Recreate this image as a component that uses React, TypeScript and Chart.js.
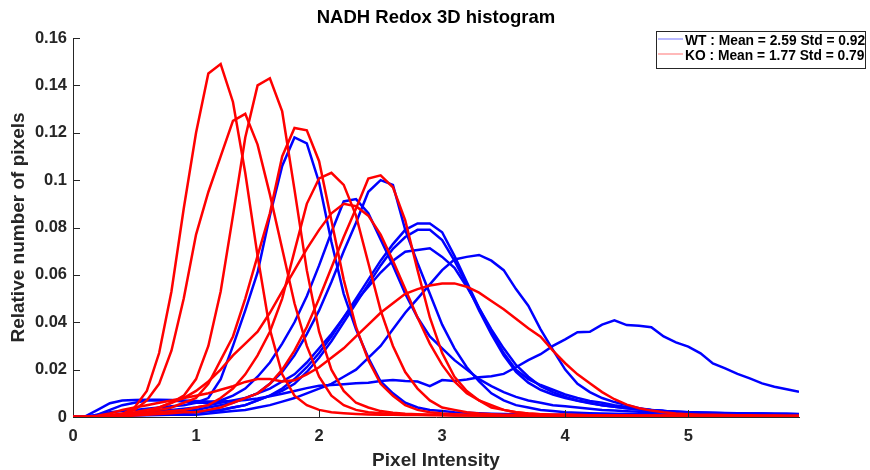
import React, { useEffect, useRef } from 'react';
import { Chart, registerables } from 'chart.js';

Chart.register(...registerables);

const chartTitle = 'NADH Redox 3D histogram';
const xAxisTitle = 'Pixel Intensity';
const yAxisTitle = 'Relative number of pixels';
const xTickValues = [0, 1, 2, 3, 4, 5];
const yTickValues = [0, 0.02, 0.04, 0.06, 0.08, 0.1, 0.12, 0.14, 0.16];
const legendLabels = ['WT : Mean = 2.59 Std = 0.92', 'KO : Mean = 1.77 Std = 0.79'];
const groupColors = ['#0000ff', '#ff0000'];

const intensity = [
  0.0, 0.1, 0.2, 0.3, 0.4, 0.5, 0.6, 0.7, 0.8, 0.9,
  1.0, 1.1, 1.2, 1.3, 1.4, 1.5, 1.6, 1.7, 1.8, 1.9,
  2.0, 2.1, 2.2, 2.3, 2.4, 2.5, 2.6, 2.7, 2.8, 2.9,
  3.0, 3.1, 3.2, 3.3, 3.4, 3.5, 3.6, 3.7, 3.8, 3.9,
  4.0, 4.1, 4.2, 4.3, 4.4, 4.5, 4.6, 4.7, 4.8, 4.9,
  5.0, 5.1, 5.2, 5.3, 5.4, 5.5, 5.6, 5.7, 5.8, 5.9,
];

// KO (red) curves
const ko1 = [
  0, 0, 0.0002, 0.0005, 0.0012, 0.004, 0.011, 0.027, 0.053, 0.088,
  0.12, 0.145, 0.149, 0.133, 0.103, 0.068, 0.037, 0.018, 0.009, 0.005,
  0.003, 0.002, 0.0016, 0.0013, 0.0011, 0.001, 0.0009, 0.0008, 0.0008, 0.0007,
  0.0007, 0.0006, 0.0006, 0.0006, 0.0005, 0.0005, 0.0005, 0.0005, 0.0004, 0.0004,
  0.0004, 0.0004, 0.0004, 0.0004, 0.0003, 0.0003, 0.0003, 0.0003, 0.0003, 0.0003,
  0.0003, 0.0003, 0.0003, 0.0003, 0.0003, 0.0003, 0.0003, 0.0003, 0.0003, 0.0003,
];
const ko2 = [
  0, 0, 0.0002, 0.0005, 0.001, 0.003, 0.007, 0.014, 0.028, 0.05,
  0.077, 0.095, 0.11, 0.125, 0.128, 0.115, 0.094, 0.071, 0.048, 0.03,
  0.017, 0.009, 0.005, 0.003, 0.002, 0.0016, 0.0013, 0.0011, 0.001, 0.0009,
  0.0008, 0.0007, 0.0007, 0.0006, 0.0006, 0.0005, 0.0005, 0.0005, 0.0005, 0.0004,
  0.0004, 0.0004, 0.0004, 0.0004, 0.0004, 0.0004, 0.0004, 0.0004, 0.0004, 0.0004,
  0.0003, 0.0003, 0.0003, 0.0003, 0.0003, 0.0003, 0.0003, 0.0003, 0.0003, 0.0003,
];
const ko3 = [
  0, 0, 0, 0.0003, 0.0008, 0.0015, 0.002, 0.004, 0.006, 0.009,
  0.016, 0.03, 0.053, 0.085, 0.118, 0.14, 0.143, 0.129, 0.096, 0.062,
  0.036, 0.02, 0.011, 0.006, 0.004, 0.0025, 0.0018, 0.0014, 0.0012, 0.001,
  0.0009, 0.0008, 0.0007, 0.0007, 0.0006, 0.0006, 0.0005, 0.0005, 0.0005, 0.0005,
  0.0004, 0.0004, 0.0004, 0.0004, 0.0004, 0.0004, 0.0004, 0.0004, 0.0003, 0.0003,
  0.0003, 0.0003, 0.0003, 0.0003, 0.0003, 0.0003, 0.0003, 0.0003, 0.0003, 0.0003,
];
const ko4 = [
  0, 0, 0, 0.0003, 0.0008, 0.0015, 0.002, 0.003, 0.004, 0.006,
  0.008, 0.014, 0.024, 0.034, 0.05, 0.068, 0.086, 0.11, 0.122, 0.121,
  0.108, 0.083, 0.058, 0.038, 0.024, 0.014, 0.009, 0.005, 0.003, 0.002,
  0.0015, 0.0012, 0.001, 0.0009, 0.0008, 0.0007, 0.0007, 0.0006, 0.0006, 0.0005,
  0.0005, 0.0005, 0.0005, 0.0004, 0.0004, 0.0004, 0.0004, 0.0004, 0.0004, 0.0004,
  0.0003, 0.0003, 0.0003, 0.0003, 0.0003, 0.0003, 0.0003, 0.0003, 0.0003, 0.0003,
];
const ko5 = [
  0, 0, 0, 0.0003, 0.0006, 0.001, 0.0015, 0.002, 0.0025, 0.003,
  0.004, 0.005, 0.008, 0.012, 0.018, 0.026, 0.036, 0.05, 0.07, 0.09,
  0.1007, 0.1031, 0.098, 0.085, 0.065, 0.045, 0.03, 0.019, 0.012, 0.007,
  0.004, 0.003, 0.002, 0.0015, 0.0012, 0.001, 0.0009, 0.0008, 0.0007, 0.0007,
  0.0006, 0.0006, 0.0005, 0.0005, 0.0005, 0.0005, 0.0004, 0.0004, 0.0004, 0.0004,
  0.0004, 0.0004, 0.0004, 0.0003, 0.0003, 0.0003, 0.0003, 0.0003, 0.0003, 0.0003,
];
const ko6 = [
  0, 0, 0, 0, 0.0003, 0.0006, 0.001, 0.0013, 0.0016, 0.002,
  0.002, 0.003, 0.004, 0.006, 0.008, 0.01, 0.014, 0.02, 0.028, 0.038,
  0.05, 0.063, 0.076, 0.088, 0.1007, 0.102, 0.097, 0.083, 0.062, 0.042,
  0.027, 0.017, 0.011, 0.007, 0.004, 0.003, 0.002, 0.0015, 0.0012, 0.001,
  0.0009, 0.0008, 0.0007, 0.0007, 0.0006, 0.0006, 0.0005, 0.0005, 0.0005, 0.0005,
  0.0004, 0.0004, 0.0004, 0.0004, 0.0004, 0.0004, 0.0004, 0.0004, 0.0004, 0.0004,
];
const ko7 = [
  0, 0, 0.0003, 0.0008, 0.0015, 0.002, 0.003, 0.004, 0.006, 0.008,
  0.011, 0.015, 0.02, 0.026, 0.031, 0.036, 0.044, 0.053, 0.062, 0.071,
  0.079, 0.086, 0.09, 0.089, 0.085, 0.077, 0.066, 0.054, 0.042, 0.031,
  0.022, 0.015, 0.01, 0.007, 0.005, 0.003, 0.002, 0.0015, 0.0012, 0.001,
  0.0009, 0.0008, 0.0007, 0.0007, 0.0006, 0.0006, 0.0005, 0.0005, 0.0005, 0.0005,
  0.0004, 0.0004, 0.0004, 0.0004, 0.0004, 0.0004, 0.0004, 0.0004, 0.0004, 0.0004,
];
const ko8 = [
  0, 0, 0.0005, 0.0015, 0.003, 0.004, 0.005, 0.006, 0.007, 0.008,
  0.009, 0.01, 0.0115, 0.013, 0.0148, 0.016, 0.016, 0.015, 0.0155, 0.018,
  0.021, 0.025, 0.029, 0.034, 0.039, 0.044, 0.048, 0.052, 0.054, 0.0555,
  0.0564, 0.0564, 0.055, 0.0525, 0.049, 0.0455, 0.0415, 0.0375, 0.0339, 0.028,
  0.0227, 0.018, 0.0142, 0.0105, 0.0075, 0.0052, 0.0037, 0.0027, 0.002, 0.0015,
  0.0012, 0.001, 0.0009, 0.0008, 0.0007, 0.0007, 0.0006, 0.0006, 0.0005, 0.0005,
];

// WT (blue) curves
const wt1 = [
  0, 0, 0.001, 0.002, 0.0025, 0.003, 0.0035, 0.004, 0.0045, 0.005,
  0.006, 0.008, 0.016, 0.03, 0.045, 0.061, 0.085, 0.106, 0.118, 0.1155,
  0.099, 0.074, 0.052, 0.037, 0.025, 0.015, 0.01, 0.006, 0.004, 0.003,
  0.0025, 0.002, 0.0018, 0.0016, 0.0014, 0.0013, 0.0012, 0.0011, 0.001, 0.001,
  0.0009, 0.0009, 0.0009, 0.0008, 0.0008, 0.0008, 0.0008, 0.0007, 0.0007, 0.0007,
  0.0007, 0.0007, 0.0006, 0.0006, 0.0006, 0.0006, 0.0006, 0.0006, 0.0006, 0.0006,
];
const wt2 = [
  0, 0, 0.001, 0.003, 0.005, 0.006, 0.007, 0.007, 0.007, 0.0065,
  0.006, 0.006, 0.007, 0.009, 0.012, 0.017, 0.023, 0.031, 0.04, 0.051,
  0.064, 0.078, 0.091, 0.092, 0.086, 0.075, 0.064, 0.052, 0.042, 0.034,
  0.029, 0.024, 0.02, 0.016, 0.013, 0.0105, 0.0085, 0.007, 0.006, 0.005,
  0.0045, 0.004, 0.0035, 0.003, 0.0027, 0.0024, 0.0022, 0.002, 0.0019, 0.0018,
  0.0017, 0.0016, 0.0015, 0.0015, 0.0014, 0.0014, 0.0013, 0.0013, 0.0012, 0.0012,
];
const wt3 = [
  0, 0, 0, 0.0005, 0.001, 0.001, 0.0015, 0.0015, 0.002, 0.0025,
  0.003, 0.004, 0.005, 0.006, 0.008, 0.01, 0.014, 0.019, 0.026, 0.035,
  0.045, 0.057, 0.07, 0.082, 0.0951, 0.1, 0.098, 0.079, 0.065, 0.052,
  0.039, 0.029, 0.021, 0.015, 0.01, 0.007, 0.005, 0.004, 0.003, 0.0025,
  0.002, 0.0018, 0.0016, 0.0015, 0.0014, 0.0013, 0.0012, 0.0012, 0.0011, 0.0011,
  0.001, 0.001, 0.001, 0.001, 0.001, 0.001, 0.001, 0.001, 0.001, 0.001,
];
const wt4 = [
  0, 0, 0, 0.0005, 0.001, 0.001, 0.0012, 0.0014, 0.0016, 0.0018,
  0.002, 0.0025, 0.003, 0.004, 0.005, 0.007, 0.009, 0.012, 0.016, 0.021,
  0.027, 0.034, 0.042, 0.05, 0.058, 0.066, 0.073, 0.079, 0.0817, 0.0817,
  0.078, 0.068, 0.057, 0.046, 0.036, 0.027, 0.02, 0.016, 0.0135, 0.0115,
  0.0095, 0.008, 0.0068, 0.006, 0.005, 0.0042, 0.0035, 0.003, 0.0025, 0.0022,
  0.002, 0.0019, 0.0018, 0.0017, 0.0016, 0.0015, 0.0015, 0.0014, 0.0014, 0.0013,
];
const wt5 = [
  0, 0, 0, 0.0005, 0.001, 0.001, 0.0012, 0.0014, 0.0016, 0.0018,
  0.002, 0.0025, 0.003, 0.004, 0.005, 0.007, 0.009, 0.011, 0.014, 0.019,
  0.025, 0.032, 0.04, 0.048, 0.056, 0.064, 0.071, 0.076, 0.079, 0.079,
  0.0747, 0.066, 0.056, 0.045, 0.035, 0.026, 0.019, 0.0145, 0.0115, 0.0095,
  0.008, 0.0068, 0.0058, 0.005, 0.0043, 0.0037, 0.0032, 0.0028, 0.0025, 0.0022,
  0.002, 0.0018, 0.0017, 0.0016, 0.0015, 0.0014, 0.0014, 0.0013, 0.0013, 0.0012,
];
const wt6 = [
  0, 0, 0, 0.0005, 0.001, 0.0015, 0.002, 0.0025, 0.003, 0.0035,
  0.004, 0.005, 0.006, 0.007, 0.008, 0.01, 0.012, 0.015, 0.018, 0.023,
  0.029, 0.035, 0.042, 0.049, 0.055, 0.061, 0.066, 0.0698, 0.0705, 0.0712,
  0.0676, 0.063, 0.055, 0.046, 0.037, 0.029, 0.022, 0.017, 0.013, 0.0105,
  0.0085, 0.007, 0.006, 0.005, 0.0043, 0.0037, 0.0032, 0.0028, 0.0025, 0.0022,
  0.002, 0.0018, 0.0017, 0.0016, 0.0015, 0.0014, 0.0014, 0.0013, 0.0013, 0.0012,
];
const wt7 = [
  0, 0, 0, 0.0003, 0.0005, 0.0006, 0.0007, 0.0008, 0.0009, 0.001,
  0.001, 0.0015, 0.002, 0.0025, 0.003, 0.004, 0.005, 0.0065, 0.008, 0.01,
  0.012, 0.014, 0.017, 0.02, 0.025, 0.03, 0.037, 0.044, 0.05, 0.056,
  0.062, 0.0665, 0.0676, 0.0684, 0.066, 0.062, 0.054, 0.047, 0.037, 0.0283,
  0.02, 0.014, 0.0105, 0.008, 0.0063, 0.005, 0.0037, 0.003, 0.0025, 0.002,
  0.0018, 0.0016, 0.0015, 0.0014, 0.0013, 0.0012, 0.0012, 0.0011, 0.0011, 0.001,
];
const wt8 = [
  0, 0.0003, 0.003, 0.0058, 0.007, 0.0072, 0.0073, 0.0073, 0.0072, 0.007,
  0.0068, 0.0065, 0.0065, 0.0068, 0.0072, 0.0078, 0.0088, 0.0098, 0.011, 0.0122,
  0.0132, 0.0135, 0.0138, 0.0142, 0.0145, 0.0152, 0.0156, 0.0152, 0.015, 0.013,
  0.0156, 0.0152, 0.0158, 0.0168, 0.0172, 0.0182, 0.021, 0.024, 0.0265, 0.03,
  0.0328, 0.0358, 0.036, 0.039, 0.0408, 0.0388, 0.0385, 0.0379, 0.034, 0.0315,
  0.0297, 0.0269, 0.0226, 0.0205, 0.0182, 0.0163, 0.0142, 0.0128, 0.0117, 0.0107,
];

const koSeries = [ko1, ko2, ko3, ko4, ko5, ko6, ko7, ko8];
const wtSeries = [wt1, wt2, wt3, wt4, wt5, wt6, wt7, wt8];

const FONT_FAMILY = '"Liberation Sans", Arial, Helvetica, sans-serif';
const TEXT_COLOR = '#262626';

const decorPlugin = {
  id: 'matlabDecor',
  afterDraw(chart: any) {
    const { ctx, chartArea, scales } = chart;
    const { left, right, bottom } = chartArea;
    ctx.save();
    // inward tick marks
    ctx.strokeStyle = TEXT_COLOR;
    ctx.lineWidth = 1;
    ctx.beginPath();
    for (const v of yTickValues) {
      if (v === 0) continue;
      const y = Math.round(scales.y.getPixelForValue(v)) + 0.5;
      ctx.moveTo(left, y);
      ctx.lineTo(left + 7, y);
    }
    for (const v of xTickValues) {
      if (v === 0) continue;
      const x = Math.round(scales.x.getPixelForValue(v)) + 0.5;
      ctx.moveTo(x, bottom);
      ctx.lineTo(x, bottom - 7);
    }
    ctx.stroke();

    // title
    ctx.fillStyle = '#000000';
    ctx.font = `bold 18.5px ${FONT_FAMILY}`;
    ctx.textAlign = 'center';
    ctx.textBaseline = 'middle';
    ctx.fillText(chartTitle, (left + right) / 2, 18);

    // legend box
    const bx = 656.5, by = 31.5, bw = 209, bh = 37;
    ctx.fillStyle = '#ffffff';
    ctx.fillRect(bx, by, bw, bh);
    ctx.strokeStyle = '#262626';
    ctx.lineWidth = 1;
    ctx.strokeRect(bx, by, bw, bh);
    const rowsY = [41, 56];
    ctx.font = `bold 13.8px ${FONT_FAMILY}`;
    ctx.textAlign = 'left';
    ctx.textBaseline = 'middle';
    legendLabels.forEach((label, i) => {
      ctx.strokeStyle = groupColors[i];
      ctx.globalAlpha = 0.55;
      ctx.beginPath();
      ctx.moveTo(658, rowsY[i] - 2);
      ctx.lineTo(683, rowsY[i] - 2);
      ctx.stroke();
      ctx.globalAlpha = 1;
      ctx.fillStyle = '#000000';
      ctx.fillText(label, 685, rowsY[i]);
    });
    ctx.restore();
  },
};

export default function App() {
  const canvasRef = useRef<HTMLCanvasElement | null>(null);

  useEffect(() => {
    const canvas = canvasRef.current;
    if (!canvas) return;
    const toPoints = (vals: number[]) => vals.map((v, i) => ({ x: intensity[i], y: v }));
    const datasets: any[] = [];
    koSeries.forEach((s, i) => {
      datasets.push({
        label: `KO ${i + 1}`,
        data: toPoints(s),
        borderColor: groupColors[1],
        backgroundColor: groupColors[1],
        borderWidth: 2.5,
        pointRadius: 0,
        fill: false,
        tension: 0,
      });
    });
    wtSeries.forEach((s, i) => {
      datasets.push({
        label: `WT ${i + 1}`,
        data: toPoints(s),
        borderColor: groupColors[0],
        backgroundColor: groupColors[0],
        borderWidth: 2.5,
        pointRadius: 0,
        fill: false,
        tension: 0,
      });
    });

    const tickFont = { family: FONT_FAMILY, size: 16.5, weight: 'bold' as const };
    const labelFont = { family: FONT_FAMILY, size: 19, weight: 'bold' as const, lineHeight: 1 };
    const chart = new Chart(canvas, {
      type: 'line',
      data: { datasets },
      plugins: [decorPlugin],
      options: {
        animation: false,
        responsive: false,
        maintainAspectRatio: false,
        layout: { padding: { top: 38, right: 71, left: 0, bottom: 0 } },
        plugins: {
          legend: { display: false },
          tooltip: { enabled: false },
          title: { display: false },
        },
        elements: { point: { radius: 0 } },
        scales: {
          x: {
            type: 'linear',
            min: 0,
            max: 5.9,
            grid: { display: false, drawTicks: false },
            border: { display: true, color: TEXT_COLOR, width: 1 },
            afterBuildTicks: (scale: any) => {
              scale.ticks = xTickValues.map((v) => ({ value: v }));
            },
            afterFit: (scale: any) => {
              scale.height = 53;
            },
            ticks: {
              color: TEXT_COLOR,
              font: tickFont,
              padding: 10,
              maxRotation: 0,
              autoSkip: false,
              callback: (v: any) => String(v),
            },
            title: {
              display: true,
              text: xAxisTitle,
              color: TEXT_COLOR,
              font: labelFont,
              padding: { top: 0, bottom: 0 },
            },
          },
          y: {
            type: 'linear',
            min: 0,
            max: 0.16,
            grid: { display: false, drawTicks: false },
            border: { display: true, color: TEXT_COLOR, width: 1 },
            afterBuildTicks: (scale: any) => {
              scale.ticks = yTickValues.map((v) => ({ value: v }));
            },
            afterFit: (scale: any) => {
              scale.width = 73;
            },
            ticks: {
              color: TEXT_COLOR,
              font: tickFont,
              padding: 6,
              autoSkip: false,
              callback: (v: any) => String(Number(Number(v).toFixed(2))),
            },
            title: {
              display: true,
              text: yAxisTitle,
              color: TEXT_COLOR,
              font: labelFont,
              padding: { top: 9, bottom: 0 },
            },
          },
        },
      },
    });
    return () => chart.destroy();
  }, []);

  return (
    <div style={{ position: 'fixed', left: 0, top: 0, width: 870, height: 470, background: '#ffffff' }}>
      <canvas ref={canvasRef} width={870} height={470} style={{ display: 'block' }} />
    </div>
  );
}
